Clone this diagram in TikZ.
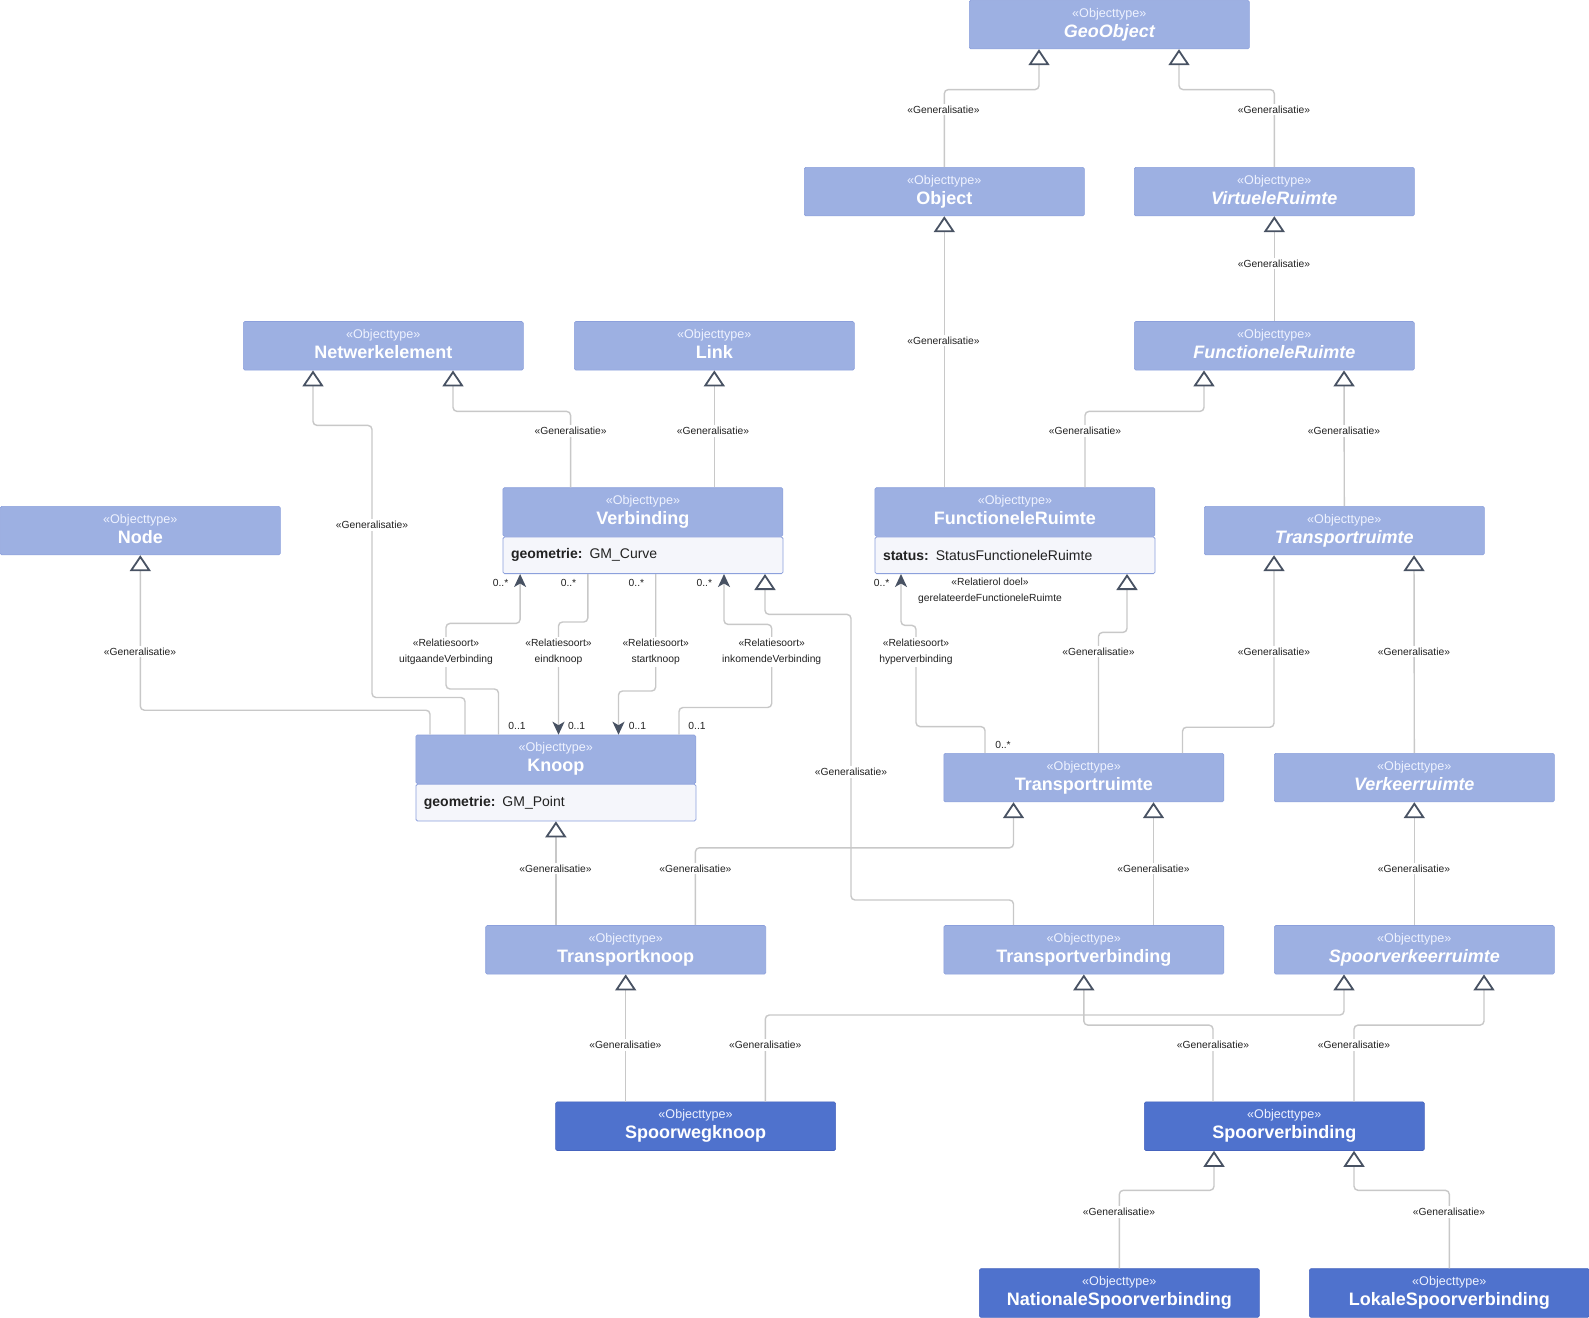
\documentclass[tikz,border=0pt]{standalone}
\usepackage{fontspec}
\setmainfont{Liberation Sans}
\usetikzlibrary{arrows.meta,calc}
\definecolor{hdrlight}{RGB}{157,176,226}
\definecolor{hdrdark}{RGB}{79,114,205}
\definecolor{hdrborder}{RGB}{140,160,220}
\definecolor{darkborder}{RGB}{70,100,190}
\definecolor{attrbg}{RGB}{245,246,251}
\definecolor{linegray}{RGB}{200,200,200}
\definecolor{slate}{RGB}{72,82,99}
\definecolor{lbltext}{RGB}{34,34,34}
\definecolor{stereo}{RGB}{238,242,255}
\newcommand\otype[1]{{\fontsize{12.6}{20}\selectfont\color{stereo}«Objecttype»}\\{\bfseries #1\vphantom{Ag}}}
\newcommand\otypei[1]{{\fontsize{12.6}{20}\selectfont\color{stereo}«Objecttype»}\\{\bfseries\itshape #1\vphantom{Ag}}}
\tikzset{
  hdr/.style={anchor=north west, minimum width=280pt, minimum height=48.6pt, inner sep=0pt,
    fill=hdrlight, draw=hdrborder, line width=0.6pt, rounded corners=1.5pt, text=white,
    align=center, font=\fontsize{18}{20}\selectfont},
  hdrdk/.style={hdr, fill=hdrdark, draw=darkborder},
  attr/.style={anchor=north west, text width=264pt, inner xsep=8pt, inner ysep=0pt,
    minimum height=36.6pt, fill=attrbg, draw=hdrborder, line width=0.8pt, rounded corners=1.5pt,
    text=lbltext, align=left, font=\fontsize{14}{16}\selectfont},
  gen/.style={draw=linegray, line width=1.4pt, rounded corners=4pt,
    -{Triangle[length=16pt, width=21pt, color=slate, fill=white, line width=1.8pt]}},
  assoc/.style={draw=linegray, line width=1.4pt, rounded corners=4pt,
    -{Stealth[length=13pt, width=12pt, inset=3.5pt, color=slate, fill=slate]}},
  lbl/.style={fill=white, inner sep=2pt, text=lbltext, font=\fontsize{10.3}{12}\selectfont},
  rlbl/.style={fill=white, inner sep=2pt, text=lbltext, align=center, font=\fontsize{10.3}{16.2}\selectfont},
  mult/.style={inner sep=0pt, text=lbltext, font=\fontsize{10.3}{12}\selectfont},
}
\begin{document}
\begin{tikzpicture}[x=1pt,y=-1pt]
\useasboundingbox (0,0) rectangle (1589,1317);
\fill[white] (0,0) rectangle (1589,1317);

% classes
\node[hdr] (geo) at (969,0) {\otypei{GeoObject}};
\node[hdr] (object) at (804,167) {\otype{Object}};
\node[hdr] (virt) at (1134,167) {\otypei{VirtueleRuimte}};
\node[hdr] (netw) at (243,321.2) {\otype{Netwerkelement}};
\node[hdr] (link) at (574,321.2) {\otype{Link}};
\node[hdr] (fri) at (1134,321.2) {\otypei{FunctioneleRuimte}};
\node[hdr] (node) at (0,506) {\otype{Node}};
\node[hdr] (verb) at (502.6,487.4) {\otype{Verbinding}};
\node[attr] (verba) at (verb.south west) {\textbf{geometrie:} GM\_Curve};
\node[hdr] (frs) at (874.6,487.4) {\otype{FunctioneleRuimte}};
\node[attr] (frsa) at (frs.south west) {\textbf{status:} StatusFunctioneleRuimte};
\node[hdr] (tri) at (1204,506) {\otypei{Transportruimte}};
\node[hdr] (knoop) at (415.5,734.7) {\otype{Knoop}};
\node[attr] (knoopa) at (knoop.south west) {\textbf{geometrie:} GM\_Point};
\node[hdr] (tr) at (943.5,753) {\otype{Transportruimte}};
\node[hdr] (verk) at (1274,753) {\otypei{Verkeerruimte}};
\node[hdr] (tk) at (485.4,925.2) {\otype{Transportknoop}};
\node[hdr] (tv) at (943.5,925.2) {\otype{Transportverbinding}};
\node[hdr] (svr) at (1274,925.2) {\otypei{Spoorverkeerruimte}};
\node[hdrdk] (swk) at (555.3,1101.6) {\otype{Spoorwegknoop}};
\node[hdrdk] (sv) at (1144,1101.6) {\otype{Spoorverbinding}};
\node[hdrdk] (nsv) at (979,1268.4) {\otype{NationaleSpoorverbinding}};
\node[hdrdk] (lsv) at (1309,1268.4) {\otype{LokaleSpoorverbinding}};

% generalisations
\draw[gen] (object.north) |- ($(geo.south west)+(70,40.4)$) -- ($(geo.south west)+(70,0)$);
\draw[gen] (virt.north) |- ($(geo.south west)+(210,40.4)$) -- ($(geo.south west)+(210,0)$);
\draw[gen] (fri.north) -- (virt.south);
\draw[gen] (frs.north -| object.south) -- (object.south);
\draw[gen] ($(frs.north west)+(210.4,0)$) |- ($(fri.south west)+(70,41)$) -- ($(fri.south west)+(70,0)$);
\draw[gen] (tri.north) -- ($(fri.south west)+(210,0)$);
\draw[gen] ($(verb.north west)+(68,0)$) |- ($(netw.south west)+(210,41)$) -- ($(netw.south west)+(210,0)$);
\draw[gen] (verb.north -| link.south) -- (link.south);
\draw[gen] ($(knoop.north west)+(49.5,0)$) |- (372,697.5) |- ($(netw.south west)+(70,55)$) -- ($(netw.south west)+(70,0)$);
\draw[gen] ($(knoop.north west)+(14.5,0)$) |- ($(node.south)+(0,155)$) -- (node.south);
\draw[gen] (tk.north -| knoopa.south) -- (knoopa.south);
\draw[gen] ($(tk.north west)+(210,0)$) |- ($(tr.south west)+(70,45.6)$) -- ($(tr.south west)+(70,0)$);
\draw[gen] ($(tv.north west)+(210,0)$) -- ($(tr.south west)+(210,0)$);
\draw[gen] ($(tv.north west)+(70,0)$) |- (851,900) |- ($(verba.south)+(122,40.4)$) -- ($(verba.south)+(122,0)$);
\draw[gen] ($(tr.north west)+(155,0)$) |- ($(frsa.south)+(112,58.4)$) -- ($(frsa.south)+(112,0)$);
\draw[gen] ($(tr.north west)+(239,0)$) |- ($(tri.south west)+(70,172)$) -- ($(tri.south west)+(70,0)$);
\draw[gen] (verk.north) -- ($(tri.south west)+(210,0)$);
\draw[gen] (svr.north) -- (verk.south);
\draw[gen] (swk.north -| tk.south) -- (tk.south);
\draw[gen] ($(swk.north west)+(210,0)$) |- ($(svr.south west)+(70,40.6)$) -- ($(svr.south west)+(70,0)$);
\draw[gen] ($(sv.north west)+(69,0)$) |- ($(tv.south)+(0,50.7)$) -- (tv.south);
\draw[gen] ($(sv.north west)+(210,0)$) |- ($(svr.south west)+(210,50.7)$) -- ($(svr.south west)+(210,0)$);
\draw[gen] (nsv.north) |- ($(sv.south west)+(70,39.5)$) -- ($(sv.south west)+(70,0)$);
\draw[gen] (lsv.north) |- ($(sv.south west)+(210,39.5)$) -- ($(sv.south west)+(210,0)$);

% associations
\draw[assoc] ($(knoop.north west)+(83,0)$) |- (446,689) |- ($(verba.south west)+(17.5,49.4)$) -- ($(verba.south west)+(17.5,0)$);
\draw[assoc] ($(verba.south west)+(85.2,0)$) |- ($(knoop.north west)+(143,-112.7)$) -- ($(knoop.north west)+(143,0)$);
\draw[assoc] ($(verba.south west)+(153.1,0)$) |- ($(knoop.north west)+(203,-43.7)$) -- ($(knoop.north west)+(203,0)$);
\draw[assoc] ($(knoop.north west)+(263.5,0)$) |- (771.7,707.5) |- ($(verba.south west)+(221.4,50.4)$) -- ($(verba.south west)+(221.4,0)$);
\draw[assoc] ($(tr.north west)+(41.5,0)$) |- (916,726.6) |- ($(frsa.south west)+(26.4,51.4)$) -- ($(frsa.south west)+(26.4,0)$);

% generalisation labels
\node[lbl] (g1) at (943.5,109.5) {«Generalisatie»};
\node[lbl] (g2) at (1274,109.5) {«Generalisatie»};
\node[lbl] (g3) at (1274,263.5) {«Generalisatie»};
\node[lbl] (g4) at (943.5,340.5) {«Generalisatie»};
\node[lbl] (g5) at (1085,431) {«Generalisatie»};
\node[lbl] (g6) at (1344,431) {«Generalisatie»};
\node[lbl] (g7) at (570.6,431) {«Generalisatie»};
\node[lbl] (g8) at (713,431) {«Generalisatie»};
\node[lbl] (g9) at (372,525) {«Generalisatie»};
\node[lbl] (g10) at (140,651.6) {«Generalisatie»};
\node[lbl] (g11) at (1098.5,651.6) {«Generalisatie»};
\node[lbl] (g12) at (1274,651.6) {«Generalisatie»};
\node[lbl] (g13) at (1414,651.6) {«Generalisatie»};
\node[lbl] (g14) at (851,772) {«Generalisatie»};
\node[lbl] (g15) at (555.5,868.5) {«Generalisatie»};
\node[lbl] (g16) at (695.4,868.5) {«Generalisatie»};
\node[lbl] (g17) at (1153.5,868.5) {«Generalisatie»};
\node[lbl] (g18) at (1414,868.5) {«Generalisatie»};
\node[lbl] (g19) at (625.4,1044.8) {«Generalisatie»};
\node[lbl] (g20) at (765.3,1044.8) {«Generalisatie»};
\node[lbl] (g21) at (1213,1044.8) {«Generalisatie»};
\node[lbl] (g22) at (1354,1044.8) {«Generalisatie»};
\node[lbl] (g23) at (1119,1212) {«Generalisatie»};
\node[lbl] (g24) at (1449,1212) {«Generalisatie»};

% relation labels
\node[rlbl] (r1) at (446,651.6) {«Relatiesoort»\\uitgaandeVerbinding};
\node[rlbl] (r2) at (558.5,651.6) {«Relatiesoort»\\eindknoop};
\node[rlbl] (r3) at (655.7,651.6) {«Relatiesoort»\\startknoop};
\node[rlbl] (r4) at (771.7,651.6) {«Relatiesoort»\\inkomendeVerbinding};
\node[rlbl] (r5) at (916,651.6) {«Relatiesoort»\\hyperverbinding};
\node[rlbl, fill=none] (r6) at (990,591) {«Relatierol doel»\\gerelateerdeFunctioneleRuimte};

% multiplicities
\node[mult] (m1) at (500.6,582.7) {0..*};
\node[mult] (m2) at (568.5,582.7) {0..*};
\node[mult] (m3) at (636.4,582.7) {0..*};
\node[mult] (m4) at (704.3,582.7) {0..*};
\node[mult] (m5) at (881.7,582.7) {0..*};
\node[mult] (m6) at (517,725.6) {0..1};
\node[mult] (m7) at (576.6,725.6) {0..1};
\node[mult] (m8) at (637.4,725.6) {0..1};
\node[mult] (m9) at (697,725.6) {0..1};
\node[mult] (m10) at (1003,745) {0..*};
\end{tikzpicture}
\end{document}
